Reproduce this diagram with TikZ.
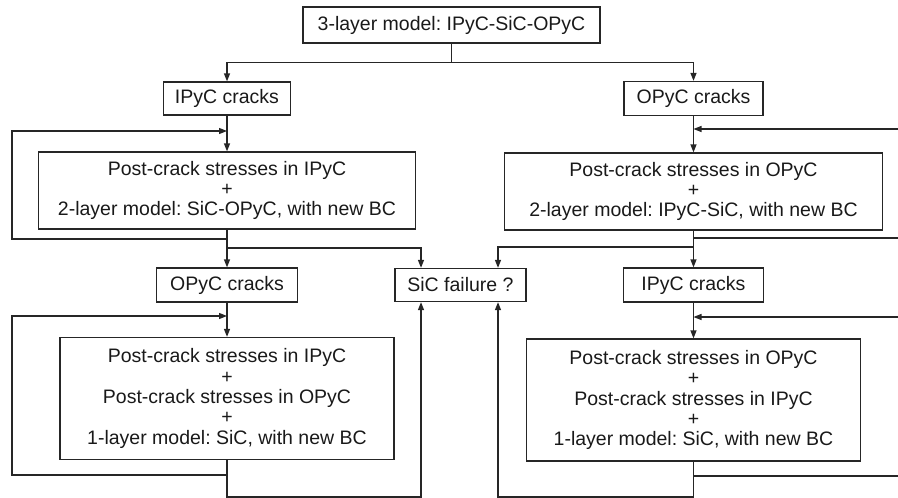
\documentclass[tikz,border=0pt]{standalone}
\usepackage{fontspec}
\setmainfont{Liberation Sans}
\usetikzlibrary{arrows.meta,calc}
\frenchspacing

\begin{document}
\begin{tikzpicture}[x=1pt,y=-1pt,
  line width=1.3pt, draw=black!85,
  box/.style={draw=black!85, line width=1.3pt, rectangle, inner sep=0pt,
    align=center, font=\fontsize{19.5}{20.3}\selectfont, text=black!90},
  flow/.style={draw=black!85, line width=1.3pt,
    -{Triangle[length=8pt,width=6pt]}},
  wire/.style={draw=black!85, line width=1.3pt}]
\useasboundingbox (0,0) rectangle (898,498);

% boxes
\node[box, minimum width=297pt, minimum height=36pt] (top) at (451.5,25)
  {3-layer model: IPyC-SiC-OPyC};
\node[box, minimum width=127pt, minimum height=33pt] (ic1) at (227,98.5) {IPyC cracks};
\node[box, minimum width=139pt, minimum height=34pt] (oc1) at (693.5,98.5) {OPyC cracks};
\node[box, minimum width=377pt, minimum height=77pt] (pc1) at (227,190.5)
  {Post-crack stresses in IPyC\\+\\2-layer model: SiC-OPyC, with new BC};
\node[box, minimum width=378pt, minimum height=77pt] (pc2) at (693.5,191.5)
  {Post-crack stresses in OPyC\\+\\2-layer model: IPyC-SiC, with new BC};
\node[box, minimum width=141pt, minimum height=34pt] (oc2) at (227,285) {OPyC cracks};
\node[box, minimum width=131pt, minimum height=33pt] (sic) at (460.5,285) {SiC failure ?};
\node[box, minimum width=140pt, minimum height=34pt] (ic2) at (693.5,285) {IPyC cracks};
\node[box, minimum width=334pt, minimum height=122pt] (pc3) at (227,398.5)
  {Post-crack stresses in IPyC\\+\\Post-crack stresses in OPyC\\+\\1-layer model: SiC, with new BC};
\node[box, minimum width=334pt, minimum height=122pt] (pc4) at (693.5,400)
  {Post-crack stresses in OPyC\\+\\Post-crack stresses in IPyC\\+\\1-layer model: SiC, with new BC};

% junction points and free ends
\coordinate (split) at ($(top.south)+(0,19)$);
\coordinate (lfb1) at (227,131);
\coordinate (lfb2) at (227,316);
\coordinate (rfb1) at (693.5,129);
\coordinate (rfb2) at (693.5,317);
\coordinate (redge1a) at (898,129);
\coordinate (redge1b) at (898,238);
\coordinate (redge2a) at (898,317);
\coordinate (redge2b) at (898,476);
\coordinate (sicL) at (421,285);
\coordinate (sicR) at (498,285);

% top split
\draw[wire] (top.south) -- (split);
\draw[flow] (split) -| (ic1.north);
\draw[flow] (split) -| (oc1.north);

% left column
\draw[flow] (ic1.south) -- (pc1.north);
\draw[flow] (pc1.south) -- (oc2.north);
\draw[flow] (227,239) -- (12,239) -- (12,131) -- (lfb1);
\draw[flow] (227,248) -| (sicL |- sic.north);
\draw[flow] (oc2.south) -- (pc3.north);
\draw[flow] (pc3.south) -- (227,475) -- (12,475) -- (12,316) -- (lfb2);
\draw[flow] (227,475) -- (227,497) -| (sicL |- sic.south);

% right column
\draw[flow] (oc1.south) -- (pc2.north);
\draw[flow] (redge1a) -- (rfb1);
\draw[wire] (693.5,238) -- (redge1b);
\draw[flow] (pc2.south) -- (ic2.north);
\draw[flow] (693.5,247) -| (sicR |- sic.north);
\draw[flow] (ic2.south) -- (pc4.north);
\draw[flow] (redge2a) -- (rfb2);
\draw[wire] (pc4.south) -- (693.5,476) -- (redge2b);
\draw[flow] (693.5,476) -- (693.5,497) -| (sicR |- sic.south);
\end{tikzpicture}
\end{document}
